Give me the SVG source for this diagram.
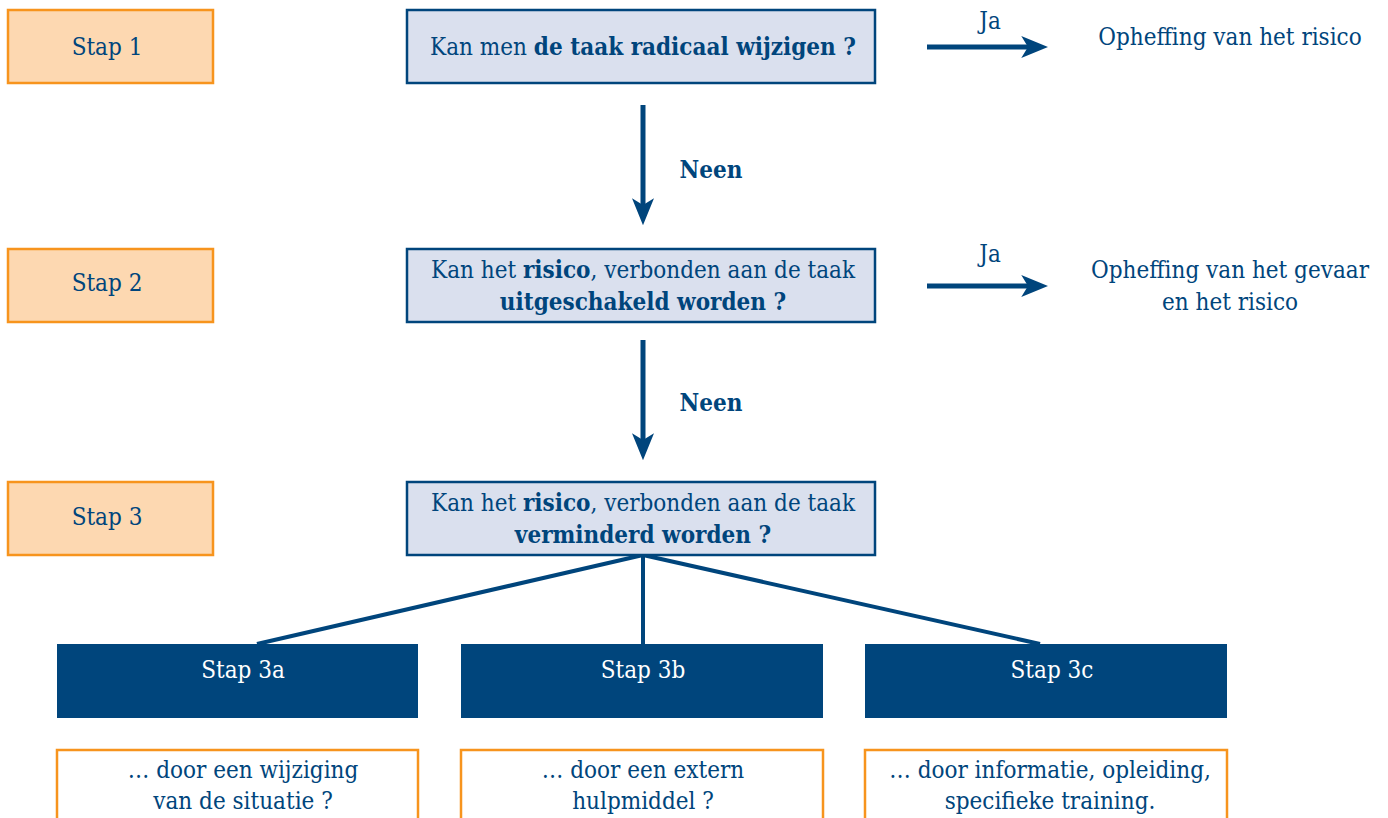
<svg xmlns="http://www.w3.org/2000/svg" width="1388" height="818" viewBox="0 0 1388 818">
<style>
text{font-family:"DejaVu Serif","Liberation Serif",serif;font-stretch:condensed;fill:#00457C;font-size:24px;text-anchor:middle}
.b{font-weight:bold}
.w{fill:#ffffff}
.stap{fill:#FDD8B1;stroke:#F7941D;stroke-width:2.5}
.q{fill:#DAE0EE;stroke:#00457C;stroke-width:2.5}
.sub{fill:#00457C}
.ans{fill:#ffffff;stroke:#F7941D;stroke-width:2.5}
.ln{stroke:#00457C;stroke-width:5;fill:none}
.tr{stroke:#00457C;stroke-width:4;fill:none}
</style>
<defs>
<marker id="ah" viewBox="0 0 12 10" refX="3" refY="5" markerWidth="5.4" markerHeight="4.4" markerUnits="strokeWidth" orient="auto" preserveAspectRatio="none">
<path d="M0,0 L12,5 L0,10 L3,5 z" fill="#00457C"/>
</marker>
</defs>
<g id="connectors">
<line class="ln" x1="643" y1="105" x2="643" y2="205" marker-end="url(#ah)"/>
<line class="ln" x1="643" y1="340" x2="643" y2="440" marker-end="url(#ah)"/>
<line class="ln" x1="927" y1="47" x2="1028" y2="47" marker-end="url(#ah)"/>
<line class="ln" x1="927" y1="286" x2="1028" y2="286" marker-end="url(#ah)"/>
<line class="tr" x1="643" y1="555" x2="257" y2="644"/>
<line class="tr" x1="643" y1="555" x2="643" y2="644"/>
<line class="tr" x1="643" y1="555" x2="1040" y2="644"/>
<text x="711" y="178" class="b">Neen</text>
<text x="711" y="411" class="b">Neen</text>
<text x="990" y="29">Ja</text>
<text x="990" y="262">Ja</text>
</g>
<g id="stap1"><rect class="stap" x="8" y="10" width="205" height="73"/><text x="107" y="55">Stap 1</text></g>
<g id="stap2"><rect class="stap" x="8" y="249" width="205" height="73"/><text x="107" y="291">Stap 2</text></g>
<g id="stap3"><rect class="stap" x="8" y="482" width="205" height="73"/><text x="107" y="525">Stap 3</text></g>
<g id="q1"><rect class="q" x="407" y="10" width="468" height="73"/><text x="643" y="55">Kan men <tspan class="b">de taak radicaal wijzigen ?</tspan></text></g>
<g id="q2"><rect class="q" x="407" y="249" width="468" height="73"/><text x="643" y="278">Kan het <tspan class="b">risico</tspan>, verbonden aan de taak</text><text x="643" y="310" class="b">uitgeschakeld worden ?</text></g>
<g id="q3"><rect class="q" x="407" y="482" width="468" height="73"/><text x="643" y="511">Kan het <tspan class="b">risico</tspan>, verbonden aan de taak</text><text x="643" y="543" class="b">verminderd worden ?</text></g>
<g id="r1"><text x="1230" y="45">Opheffing van het risico</text></g>
<g id="r2"><text x="1230" y="278">Opheffing van het gevaar</text><text x="1230" y="310">en het risico</text></g>
<g id="s3a"><rect class="sub" x="57" y="644" width="361" height="74"/><text class="w" x="243" y="678">Stap 3a</text></g>
<g id="s3b"><rect class="sub" x="461" y="644" width="362" height="74"/><text class="w" x="643" y="678">Stap 3b</text></g>
<g id="s3c"><rect class="sub" x="865" y="644" width="362" height="74"/><text class="w" x="1052" y="678">Stap 3c</text></g>
<g id="a3a"><rect class="ans" x="57" y="750" width="361" height="80"/><text x="243" y="778">… door een wijziging</text><text x="243" y="809">van de situatie ?</text></g>
<g id="a3b"><rect class="ans" x="461" y="750" width="362" height="80"/><text x="643" y="778">… door een extern</text><text x="643" y="809">hulpmiddel ?</text></g>
<g id="a3c"><rect class="ans" x="865" y="750" width="362" height="80"/><text x="1050" y="778">… door informatie, opleiding,</text><text x="1050" y="809">specifieke training.</text></g>
</svg>
